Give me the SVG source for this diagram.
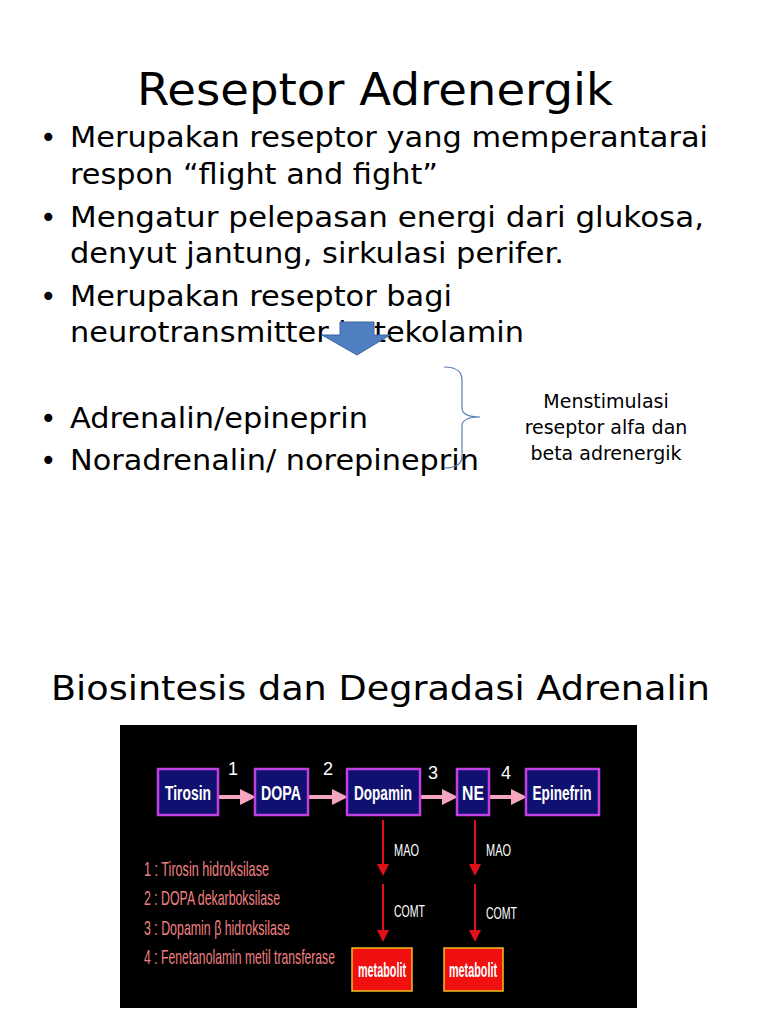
<svg xmlns="http://www.w3.org/2000/svg" width="768" height="1024" viewBox="0 0 768 1024">
<defs>
<marker id="pk" markerWidth="4" markerHeight="4" refX="3" refY="2" orient="auto" markerUnits="strokeWidth"><path d="M0,0 L4,2 L0,4z" fill="#f4a6c0"/></marker>
<marker id="rd" markerWidth="6" markerHeight="6" refX="5" refY="3" orient="auto" markerUnits="strokeWidth"><path d="M0,0 L6,3 L0,6z" fill="#e0101a"/></marker>
</defs>
<style>
.t{font-family:"DejaVu Sans",sans-serif;fill:#000}
.b{font-size:28px}
.box{fill:#101070;stroke:#c040e0;stroke-width:2.5}
.bt{font-family:"Liberation Sans",sans-serif;font-weight:bold;font-size:20px;fill:#fff;text-anchor:middle}
.num{font-family:"Liberation Sans",sans-serif;font-size:18px;fill:#fff}
.lg{font-family:"Liberation Sans",sans-serif;font-size:21px;fill:#f08080}
.wl{font-family:"Liberation Sans",sans-serif;font-size:17px;fill:#fff}
.met{fill:#f01010;stroke:#f0c020;stroke-width:1.5}
</style>
<rect width="768" height="1024" fill="#fff"/>
<text class="t" x="137" y="105" font-size="44" textLength="476" lengthAdjust="spacingAndGlyphs">Reseptor Adrenergik</text>
<g class="t b">
<text x="40" y="147">•</text><text x="70" y="147" textLength="638" lengthAdjust="spacingAndGlyphs">Merupakan reseptor yang memperantarai</text>
<text x="70" y="184" textLength="368" lengthAdjust="spacingAndGlyphs">respon “flight and fight”</text>
<text x="40" y="227">•</text><text x="70" y="227" textLength="634" lengthAdjust="spacingAndGlyphs">Mengatur  pelepasan energi dari glukosa,</text>
<text x="70" y="263" textLength="494" lengthAdjust="spacingAndGlyphs">denyut jantung, sirkulasi perifer.</text>
<text x="40" y="306">•</text><text x="70" y="306" textLength="382" lengthAdjust="spacingAndGlyphs">Merupakan reseptor bagi</text>
<text x="70" y="342" textLength="454" lengthAdjust="spacingAndGlyphs">neurotransmitter katekolamin</text>
<text x="40" y="428">•</text><text x="70" y="428" textLength="298" lengthAdjust="spacingAndGlyphs">Adrenalin/epineprin</text>
<text x="40" y="470">•</text><text x="70" y="470" textLength="409" lengthAdjust="spacingAndGlyphs">Noradrenalin/ norepineprin</text>
</g>
<g id="bluearrow"><path d="M340,322 H374 V335 H390 L357,355 L322,335 H340 Z" fill="#4f7fc0" stroke="#3a66a0" stroke-width="1"/></g>
<g id="brace"><path d="M444,367 Q462,367 462,380 V408 Q462,417 480,417 Q462,417 462,426 V456 Q462,468 444,468" fill="none" stroke="#5a7fb0" stroke-width="1.2"/></g>
<g class="t" font-size="19" text-anchor="middle">
<text x="606" y="408">Menstimulasi</text>
<text x="606" y="434">reseptor alfa dan</text>
<text x="606" y="460">beta adrenergik</text>
</g>
<text class="t" x="51" y="700" font-size="33" textLength="659" lengthAdjust="spacingAndGlyphs">Biosintesis dan Degradasi Adrenalin</text>
<rect x="120" y="725" width="517" height="283" fill="#000"/>
<g id="connectors" stroke-width="4">
<line x1="219" y1="797" x2="252" y2="797" stroke="#f4a6c0" marker-end="url(#pk)"/>
<line x1="309" y1="797" x2="344" y2="797" stroke="#f4a6c0" marker-end="url(#pk)"/>
<line x1="421" y1="797" x2="454" y2="797" stroke="#f4a6c0" marker-end="url(#pk)"/>
<line x1="490" y1="797" x2="523" y2="797" stroke="#f4a6c0" marker-end="url(#pk)"/>
<g stroke="#e0101a" stroke-width="2">
<line x1="383" y1="820" x2="383" y2="874" marker-end="url(#rd)"/>
<line x1="383" y1="884" x2="383" y2="940" marker-end="url(#rd)"/>
<line x1="475" y1="820" x2="475" y2="874" marker-end="url(#rd)"/>
<line x1="475" y1="884" x2="475" y2="940" marker-end="url(#rd)"/>
</g>
</g>
<g id="tirosin"><rect class="box" x="158" y="769" width="60" height="46"/><text class="bt" x="188" y="800" textLength="46" lengthAdjust="spacingAndGlyphs">Tirosin</text></g>
<g id="dopa"><rect class="box" x="255" y="769" width="53" height="46"/><text class="bt" x="281" y="800" textLength="40" lengthAdjust="spacingAndGlyphs">DOPA</text></g>
<g id="dopamin"><rect class="box" x="347" y="769" width="73" height="46"/><text class="bt" x="383" y="800" textLength="58" lengthAdjust="spacingAndGlyphs">Dopamin</text></g>
<g id="ne"><rect class="box" x="457" y="769" width="32" height="46" fill="#2a2a90"/><text class="bt" x="473" y="800" textLength="22" lengthAdjust="spacingAndGlyphs">NE</text></g>
<g id="epinefrin"><rect class="box" x="526" y="769" width="73" height="46"/><text class="bt" x="562" y="800" textLength="59" lengthAdjust="spacingAndGlyphs">Epinefrin</text></g>
<g class="num"><text x="228" y="775">1</text><text x="323" y="775">2</text><text x="428" y="779">3</text><text x="501" y="779">4</text></g>
<g class="wl"><text x="394" y="856" textLength="25" lengthAdjust="spacingAndGlyphs">MAO</text><text x="394" y="917" textLength="31" lengthAdjust="spacingAndGlyphs">COMT</text><text x="486" y="856" textLength="25" lengthAdjust="spacingAndGlyphs">MAO</text><text x="486" y="919" textLength="31" lengthAdjust="spacingAndGlyphs">COMT</text></g>
<g class="lg">
<text x="144" y="876" textLength="125" lengthAdjust="spacingAndGlyphs">1 : Tirosin hidroksilase</text>
<text x="144" y="905" textLength="136" lengthAdjust="spacingAndGlyphs">2 : DOPA dekarboksilase</text>
<text x="144" y="935" textLength="146" lengthAdjust="spacingAndGlyphs">3 : Dopamin β hidroksilase</text>
<text x="144" y="964" textLength="191" lengthAdjust="spacingAndGlyphs">4 : Fenetanolamin metil transferase</text>
</g>
<g id="met1"><rect class="met" x="352" y="948" width="60" height="43"/><text class="bt" x="382" y="977" font-size="16" textLength="48" lengthAdjust="spacingAndGlyphs">metabolit</text></g>
<g id="met2"><rect class="met" x="444" y="948" width="59" height="43"/><text class="bt" x="473" y="977" font-size="16" textLength="48" lengthAdjust="spacingAndGlyphs">metabolit</text></g>
</svg>
